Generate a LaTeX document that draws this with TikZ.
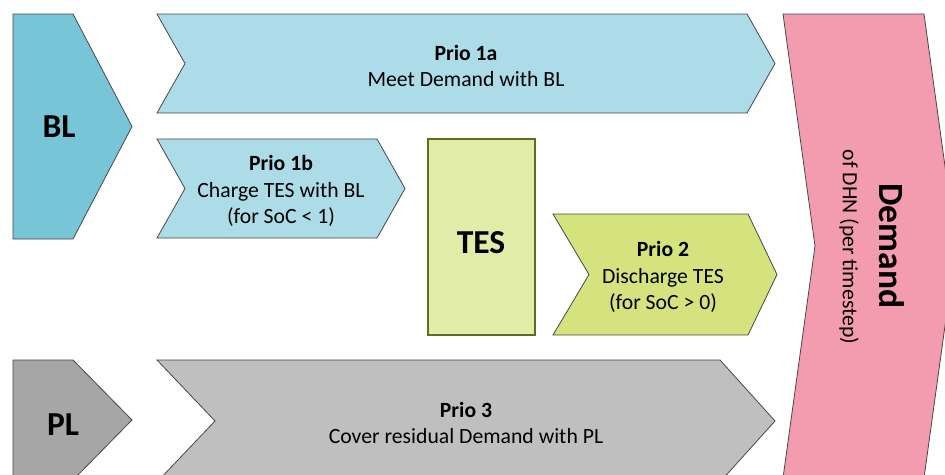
\documentclass[tikz,border=0pt]{standalone}
\usepackage{fontspec}
\setmainfont{Carlito}

\definecolor{blfill}{HTML}{78C5D8}
\definecolor{blstep}{HTML}{ACDCE7}
\definecolor{tesfill}{HTML}{E2ECA9}
\definecolor{tesline}{HTML}{5E6E1F}
\definecolor{tesstep}{HTML}{D5E37E}
\definecolor{plfill}{HTML}{A6A6A6}
\definecolor{plstep}{HTML}{BFBFBF}
\definecolor{demfill}{HTML}{F39BAF}

% chevron: x-left, notch depth, x-right, tip depth, y-top, y-bottom, style
\newcommand\chevronpath[7]{%
  \path[#7] (#1,#5) -- ({#3-#4},#5) -- (#3,{(#5+#6)/2}) -- ({#3-#4},#6)
    -- (#1,#6) -- ({#1+#2},{(#5+#6)/2}) -- cycle;}
% pentagon arrow: x-left, x-corner, x-tip, y-top, y-bottom, style
\newcommand\pentapath[6]{%
  \path[#6] (#1,#4) -- (#2,#4) -- (#3,{(#4+#5)/2}) -- (#2,#5) -- (#1,#5) -- cycle;}

\tikzset{
  outline/.style={draw=black!72, line width=0.8pt, line join=miter},
  steptext/.style={align=center, text=black, inner sep=0pt,
    font=\fontsize{21.7}{26.8}\selectfont},
  bigtext/.style={inner sep=0pt, text=black, font=\fontsize{33.5}{36}\selectfont\bfseries},
}

\begin{document}
\begin{tikzpicture}[x=1pt, y=-1pt]
  \useasboundingbox (0,0) rectangle (945,474);
  \clip (0,0) rectangle (945,474);

  % base load unit and its two steps
  \pentapath{13}{73}{132}{14}{239}{outline, fill=blfill}
  \chevronpath{157}{28}{775}{28}{14}{113}{outline, fill=blstep}
  \chevronpath{157}{28}{405}{28}{139}{238}{outline, fill=blstep}

  % thermal storage and its discharge step
  \path[draw=tesline, line width=2.6pt, fill=tesfill] (428,139) rectangle (535,335);
  \chevronpath{553}{36}{777}{29}{214}{335}{outline, fill=tesstep}

  % peak load unit and its step
  \pentapath{13}{73}{132}{360}{480}{outline, fill=plfill}
  \chevronpath{157}{58}{775}{55}{360}{482}{outline, fill=plstep}

  % demand of the district heating network
  \chevronpath{783}{32}{956}{32}{14}{478}{outline, fill=demfill}

  % labels
  \node[bigtext] (bl) at (59,127) {BL};
  \node[bigtext] (pl) at (63,425) {PL};
  \node[bigtext] (tes) at (481,243) {TES};

  \node[steptext] (p1a) at (466,66) {\textbf{Prio 1a}\\Meet Demand with BL};
  \node[steptext] (p1b) at (281,191) {\textbf{Prio 1b}\\Charge TES with BL\\(for SoC < 1)};
  \node[steptext] (p2) at (663,277) {\textbf{Prio 2}\\Discharge TES\\(for SoC > 0)};
  \node[steptext] (p3) at (466,423) {\textbf{Prio 3}\\Cover residual Demand with PL};

  \node[rotate=-90, inner sep=0pt, font=\fontsize{35.5}{38}\selectfont\bfseries] (dem) at (892,246) {Demand};
  \node[rotate=-90, inner sep=0pt, font=\fontsize{21.7}{26}\selectfont] (dhn) at (849,247) {of DHN (per timestep)};
\end{tikzpicture}
\end{document}
